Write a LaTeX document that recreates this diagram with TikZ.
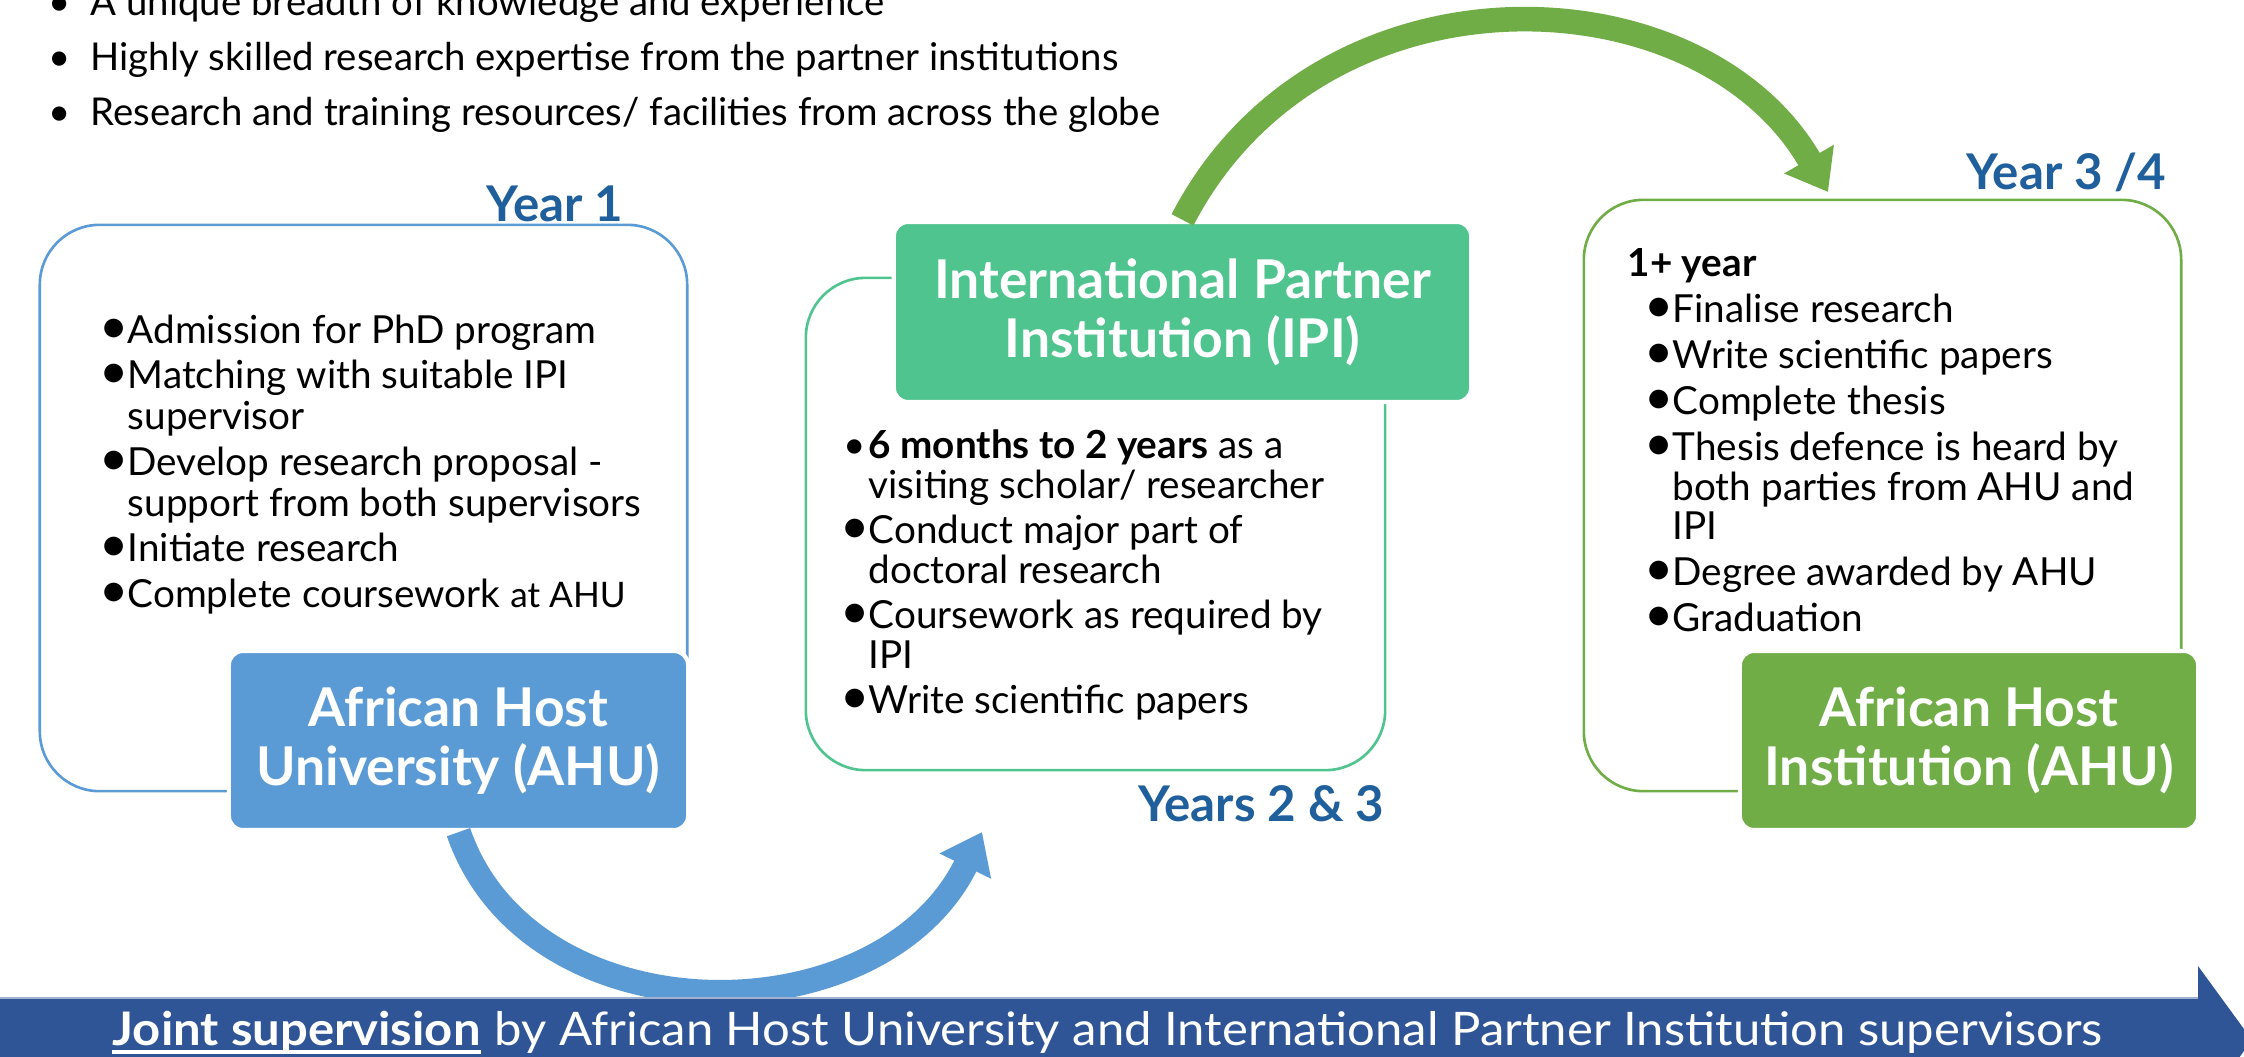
\documentclass[tikz,border=0pt]{standalone}
\usepackage{fontspec}
\setmainfont{Lato}
\newfontfamily\widefont[FakeStretch=1.06]{Lato}
\usetikzlibrary{arrows.meta}
\definecolor{ahublue}{HTML}{5B9BD5}
\definecolor{ipigreen}{HTML}{50C48E}
\definecolor{ahugreen}{HTML}{70AD47}
\definecolor{yearblue}{HTML}{1F5F9B}
\definecolor{bannerblue}{HTML}{2F5597}
\newcommand\bul{\makebox[0.23cm][l]{\hspace*{-1.5pt}\scalebox{1.3}{\textbullet}}}
\newcommand\smallbul{\makebox[0.23cm][l]{\hspace*{-0.5pt}\textbullet}}
\newcommand\ind{\hspace*{0.23cm}}
\newcommand\topbul{\makebox[0.35cm][l]{\hspace*{-2pt}\textbullet}}
\begin{document}
\begin{tikzpicture}[x=0.01cm,y=-0.01cm,
  outlinebox/.style={draw=#1, line width=0.75pt, rounded corners=17pt, inner sep=0pt},
  titlebox/.style={fill=#1, draw=white, line width=1.2pt, rounded corners=4pt, inner sep=0pt,
    text=white, align=center, font=\fontsize{15.2}{16.7}\selectfont\bfseries},
  yearlbl/.style={anchor=base east, inner sep=0pt, text=yearblue, font=\fontsize{14}{16}\selectfont\bfseries},
  listtext/.style={anchor=base west, inner sep=0pt, font=\fontsize{11}{#1}\selectfont},
  bannertext/.style={anchor=base west, inner sep=0pt, text=white, font=\widefont\fontsize{13.15}{15}\selectfont},
  bigarrow/.style={draw=#1, line width=7pt, -{Triangle[width=15.6pt,length=10.8pt]}}
]
\useasboundingbox (0,0) rectangle (2244,1057);

% top bullet text
\node[anchor=base west, inner sep=0pt, font=\fontsize{10.9}{15.65}\selectfont] (toptext) at (55,15)
 {\begin{tabular}[t]{@{}l@{}}
  \topbul A unique breadth of knowledge and experience\\
  \topbul Highly skilled research expertise from the partner institutions\\
  \topbul Research and training resources/ facilities from across the globe
 \end{tabular}};

% outline boxes
\node[outlinebox=ahublue, minimum width=6.47cm, minimum height=5.66cm] (box1) at (363.5,508) {};
\node[outlinebox=ipigreen, minimum width=5.79cm, minimum height=4.92cm] (box2) at (1095.5,524) {};
\node[outlinebox=ahugreen, minimum width=5.97cm, minimum height=5.91cm] (box3) at (1882.5,495.5) {};

% title boxes
\node[titlebox=ahublue, minimum width=4.59cm, minimum height=1.79cm] (ahu1) at (458.5,740.5) {African Host\\University (AHU)};
\node[titlebox=ipigreen, minimum width=5.77cm, minimum height=1.80cm] (ipi) at (1182.5,312) {International Partner\\Institution (IPI)};
\node[titlebox=ahugreen, minimum width=4.58cm, minimum height=1.79cm] (ahu2) at (1969,740.5) {African Host\\Institution (AHU)};

% year labels
\node[yearlbl] (y1) at (624,221) {Year 1};
\node[yearlbl] (y2) at (1385,821) {Years 2 \& 3};
\node[yearlbl] (y3) at (2167,189) {Year 3 /4};

% lists
\node[listtext=11.6pt] (list1) at (104,343)
 {\begin{tabular}[t]{@{}l@{}}
  \bul Admission for PhD program\\[1.4pt]
  \bul Matching with suitable IPI\\
  \ind supervisor\\[1.4pt]
  \bul Develop research proposal -\\
  \ind support from both supervisors\\[1.4pt]
  \bul Initiate research\\[1.4pt]
  \bul Complete coursework {\fontsize{10}{11}\selectfont at AHU}
 \end{tabular}};

\node[listtext=11pt] (list2) at (845,458)
 {\begin{tabular}[t]{@{}l@{}}
  \smallbul\textbf{6 months to 2 years} as a\\
  \ind visiting scholar/ researcher\\[1.5pt]
  \bul Conduct major part of\\
  \ind doctoral research\\[1.5pt]
  \bul Coursework as required by\\
  \ind IPI\\[1.5pt]
  \bul Write scientific papers
 \end{tabular}};

\node[anchor=base west, inner sep=0pt, font=\fontsize{11}{11.2}\selectfont\bfseries] (oneyear) at (1627,276) {1+ year};
\node[listtext=11.15pt] (list3) at (1649,322)
 {\begin{tabular}[t]{@{}l@{}}
  \bul Finalise research\\[1.65pt]
  \bul Write scientific papers\\[1.65pt]
  \bul Complete thesis\\[1.65pt]
  \bul Thesis defence is heard by\\
  \ind both parties from AHU and\\
  \ind IPI\\[1.65pt]
  \bul Degree awarded by AHU\\[1.65pt]
  \bul Graduation
 \end{tabular}};

% curved arrows
\coordinate (a1end) at (982,832);
\coordinate (a2end) at (1828,192);
\draw[bigarrow=ahublue] (ahu1.south) .. controls (530,1040) and (880,1040) .. (a1end);
\draw[bigarrow=ahugreen] (ipi.north) .. controls (1320,-45) and (1700,-30) .. (a2end);

% banner
\fill[bannerblue] (0,998) -- (2198,998) -- (2198,966) -- (2252,1040) -- (2198,1114) -- (2198,1082) -- (0,1082) -- cycle;
\draw[line width=0.6pt, draw=bannerblue!45!white] (0,998) -- (2198,998);
\node[bannertext, font=\widefont\fontsize{13.15}{15}\selectfont\bfseries] (bannerbold) at (112,1045) {Joint supervision};
\node[bannertext] (bannerrest) at (bannerbold.base east) {\ by African Host University and International Partner Institution supervisors};
\draw[white, line width=1.1pt] ([yshift=-2pt]bannerbold.base west) -- ([yshift=-2pt]bannerbold.base east);
\end{tikzpicture}
\end{document}
